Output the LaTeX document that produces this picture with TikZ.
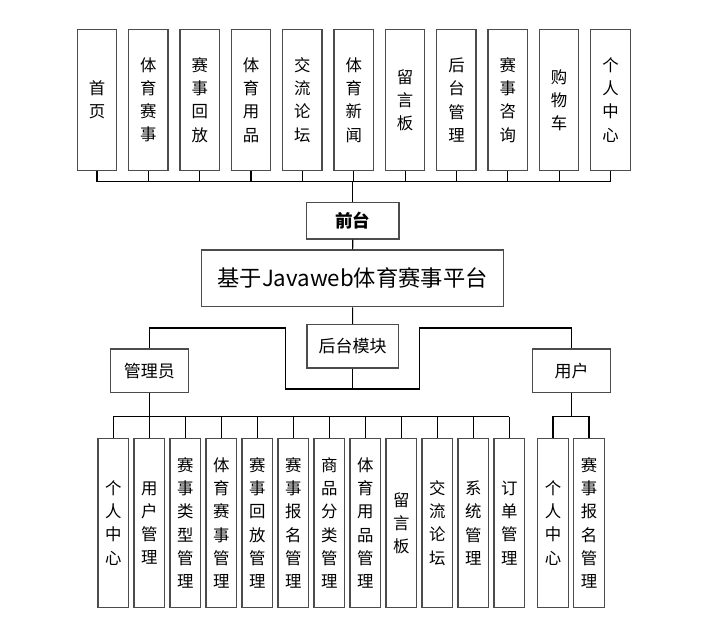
\documentclass[tikz,border=0pt]{standalone}
\usepackage{fontspec}
\setmainfont{Noto Sans CJK SC}

\begin{document}
\begin{tikzpicture}[
        x=0.03cm, y=-0.03cm,
        box/.style={draw=black!70, line width=1.1pt, fill=white, inner sep=0pt},
        colbox/.style={box, minimum width=1.18cm, minimum height=4.24cm, align=center,
            font=\fontsize{14}{19.8}\selectfont},
        subbox/.style={box, minimum width=0.92cm, minimum height=5.08cm, align=center,
            font=\fontsize{14}{19.8}\selectfont},
        midbox/.style={box, minimum height=1.30cm, font=\fontsize{14.5}{17}\selectfont},
        link/.style={line width=1pt}
    ]

        \useasboundingbox (0,0) rectangle (721,630);

        % Front-end pages
        \foreach \i/\txt in {1/{首\\页}, 2/{体\\育\\赛\\事}, 3/{赛\\事\\回\\放},
                4/{体\\育\\用\\品}, 5/{交\\流\\论\\坛}, 6/{体\\育\\新\\闻},
                7/{留\\言\\板}, 8/{后\\台\\管\\理}, 9/{赛\\事\\咨\\询},
                10/{购\\物\\车}, 11/{个\\人\\中\\心}}
            \node[colbox] (t\i) at ({97+51.35*(\i-1)},100) {\txt};

        \coordinate (tbus) at (0,181.7);
        \foreach \i in {1,...,11}
            \draw[link] (t\i.south) -- (t\i.south |- tbus);
        \draw[link] (t1.south |- tbus) -- (t11.south |- tbus);

        % Front and platform
        \node[box, minimum width=2.77cm, minimum height=1.09cm,
            font=\fontsize{15}{17}\selectfont\bfseries] (front) at (352.8,220.9) {前台};
        \node[box, minimum width=9.07cm, minimum height=1.70cm,
            font=\fontsize{19}{23}\selectfont] (main) at (352.5,278.3) {基于Javaweb体育赛事平台};
        \draw[link] (front.north) -- (front.north |- tbus);
        \draw[link] (front) -- (main);

        % Back-end module
        \node[midbox, minimum width=2.74cm] (back) at (352.7,346.3) {后台模块};
        \node[midbox, minimum width=2.34cm] (admin) at (149.3,370.7) {管理员};
        \node[midbox, minimum width=2.33cm] (user) at (571.5,370.7) {用户};
        \draw[link] (main) -- (back);

        \coordinate (brL) at (285.7,328);
        \coordinate (brR) at (419.3,328);
        \coordinate (bbot) at (0,389);
        \draw[link] (admin.north) |- (brL) -- (brL |- bbot) -| (brR) -| (user.north);
        \draw[link] (back.south) -- (back.south |- bbot);

        % Admin functions
        \foreach \i/\txt in {1/{个\\人\\中\\心}, 2/{用\\户\\管\\理}, 3/{赛\\事\\类\\型\\管\\理},
                4/{体\\育\\赛\\事\\管\\理}, 5/{赛\\事\\回\\放\\管\\理}, 6/{赛\\事\\报\\名\\管\\理},
                7/{商\\品\\分\\类\\管\\理}, 8/{体\\育\\用\\品\\管\\理}, 9/{留\\言\\板},
                10/{交\\流\\论\\坛}, 11/{系\\统\\管\\理}, 12/{订\\单\\管\\理}}
            \node[subbox] (a\i) at ({113.3+36*(\i-1)},523) {\txt};

        \coordinate (abus) at (0,416.7);
        \foreach \i in {1,...,12}
            \draw[link] (a\i.north) -- (a\i.north |- abus);
        \draw[link] (a1.north |- abus) -- (a12.north |- abus);
        \draw[link] (admin.south) -- (admin.south |- abus);

        % User functions
        \node[subbox] (u1) at (553,523) {个\\人\\中\\心};
        \node[subbox] (u2) at (589,523) {赛\\事\\报\\名\\管\\理};
        \draw[link] (user.south) -- (user.south |- abus);
        \draw[link] (u1.north) |- (user.south |- abus) -| (u2.north);

    \end{tikzpicture}
\end{document}
